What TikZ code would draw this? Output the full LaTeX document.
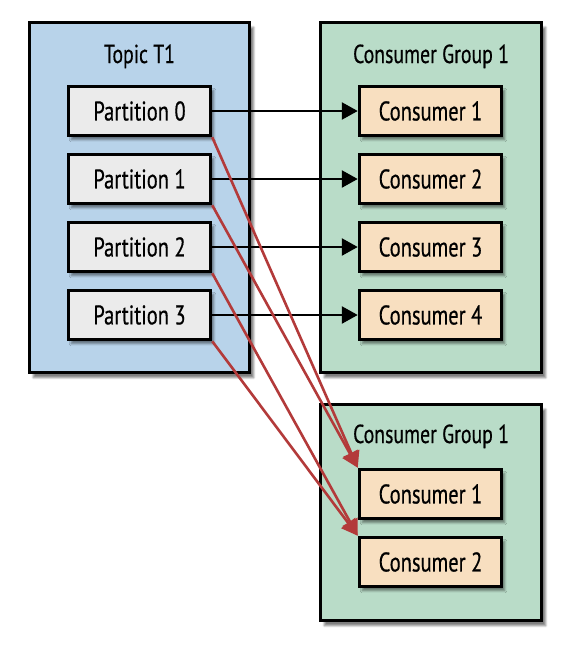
\documentclass[tikz,border=0pt]{standalone}
\usepackage{fontspec}
\setmainfont[FakeStretch=0.76,FakeBold=0.5]{PT Sans}
\usetikzlibrary{arrows.meta,positioning,shadows.blur}

\definecolor{topicblue}{HTML}{B8D3EA}
\definecolor{groupgreen}{HTML}{B9DCC8}
\definecolor{partgray}{HTML}{EBEBEB}
\definecolor{consumerpeach}{HTML}{F8DFC0}
\definecolor{arrowred}{HTML}{B33A3A}

\begin{document}
\begin{tikzpicture}[
    x=1pt, y=-1pt,
    layer/.style={draw=black, line width=3pt, inner sep=0pt,
      blur shadow={shadow xshift=4pt, shadow yshift=-5pt, shadow blur steps=8, shadow opacity=50}},
    title/.style={font=\fontsize{26}{30}\selectfont, text=black, anchor=base},
    box/.style={draw=black, line width=3pt, minimum width=142.5pt, minimum height=49.5pt, inner sep=0pt,
      font=\fontsize{27}{30}\selectfont, text=black,
      blur shadow={shadow xshift=3pt, shadow yshift=-4pt, shadow blur steps=6, shadow opacity=45}},
    partbox/.style={box, fill=partgray},
    consbox/.style={box, fill=consumerpeach},
    connector/.style={-{Triangle[length=16pt,width=17pt]}, line width=2.6pt, black},
    redconnector/.style={-{Triangle[length=16pt,width=17pt]}, line width=2.6pt, arrowred}
  ]
    \useasboundingbox (0,0) rectangle (584,646);

    % Topico e grupos
    \node[layer, fill=topicblue, minimum width=220.5pt, minimum height=350.5pt] (topicLayer) at (139.5,197.5) {};
    \node[title] (topicTitle) at (139.5,63) {Topic T1};
    \node[layer, fill=groupgreen, minimum width=221.5pt, minimum height=350.5pt] (groupLayer) at (431,197.5) {};
    \node[title] (groupTitle) at (431,63) {Consumer Group 1};
    \node[layer, fill=groupgreen, minimum width=221.5pt, minimum height=216.5pt] (groupTwoLayer) at (431,512.5) {};
    \node[title] (groupTwoTitle) at (431,443) {Consumer Group 1};

    % Particoes
    \node[partbox] (p0) at (139.5,111) {Partition 0};
    \node[partbox, below=15.5pt of p0] (p1) {Partition 1};
    \node[partbox, below=15.5pt of p1] (p2) {Partition 2};
    \node[partbox, below=15.5pt of p2] (p3) {Partition 3};

    % Consumidores
    \node[consbox, right=145.5pt of p0] (c1) {Consumer 1};
    \node[consbox, right=145.5pt of p1] (c2) {Consumer 2};
    \node[consbox, right=145.5pt of p2] (c3) {Consumer 3};
    \node[consbox, right=145.5pt of p3] (c4) {Consumer 4};
    \node[consbox] (d1) at (430.5,494) {Consumer 1};
    \node[consbox, below=15.5pt of d1] (d2) {Consumer 2};

    % Conectores
    \draw[connector] (p0) -- (c1);
    \draw[connector] (p1) -- (c2);
    \draw[connector] (p2) -- (c3);
    \draw[connector] (p3) -- (c4);
    \draw[redconnector] (p0.south east) -- (d1.north west);
    \draw[redconnector] (p1.south east) -- (d1.north west);
    \draw[redconnector] (p2.south east) -- (d2.north west);
    \draw[redconnector] (p3.south east) -- (d2.north west);
  \end{tikzpicture}
\end{document}
